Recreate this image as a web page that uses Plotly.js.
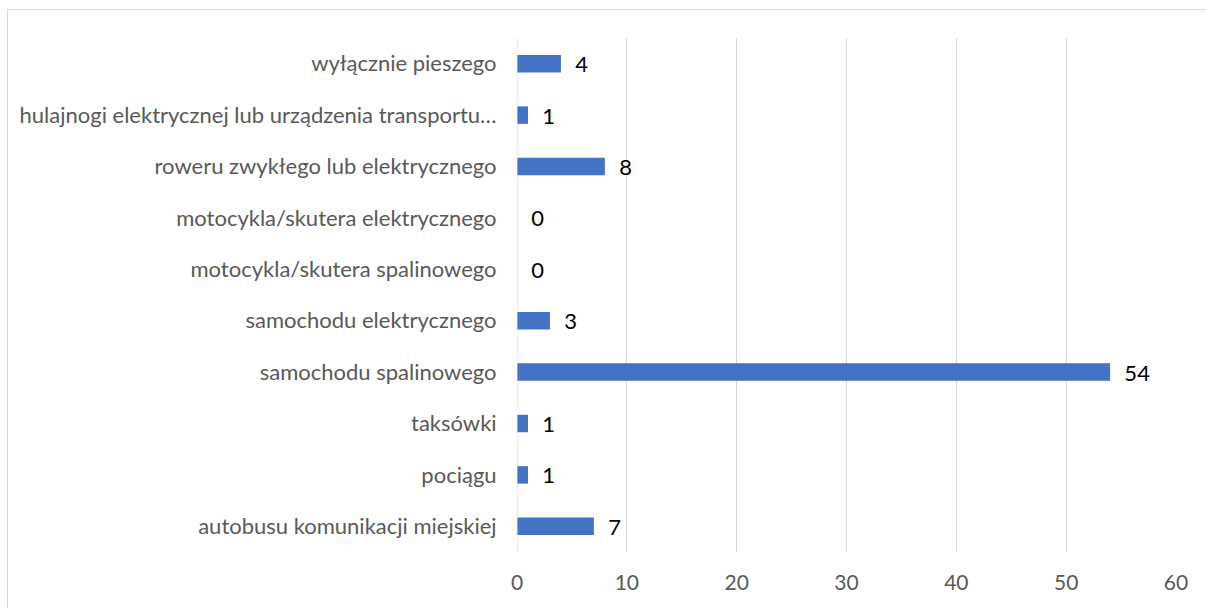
<!DOCTYPE html>
<html>
<head>
<meta charset="utf-8">
<script src="https://cdn.plot.ly/plotly-3.0.1.min.js"></script>
<style>
html,body{margin:0;padding:0;background:#fff;}
#wrap{position:relative;width:1206px;height:608px;overflow:hidden;}
#frame{position:absolute;left:7px;top:9px;width:1220px;height:620px;border:1px solid #d9d9d9;box-sizing:border-box;pointer-events:none;}
#chart{position:absolute;left:0;top:0;width:1206px;height:608px;}
</style>
</head>
<body>
<div id="wrap">
<div id="chart"></div>
<div id="frame"></div>
</div>
<script>
const categories = [
  "autobusu komunikacji miejskiej",
  "pociągu",
  "taksówki",
  "samochodu spalinowego",
  "samochodu elektrycznego",
  "motocykla/skutera spalinowego",
  "motocykla/skutera elektrycznego",
  "roweru zwykłego lub elektrycznego",
  "hulajnogi elektrycznej lub urządzenia transportu…",
  "wyłącznie pieszego"
];
const values = [7, 1, 1, 54, 3, 0, 0, 8, 1, 4];
const tickValues = [0, 10, 20, 30, 40, 50, 60];

const font = "Lato, Open Sans, sans-serif";

Plotly.newPlot("chart", [{
  type: "bar",
  orientation: "h",
  y: categories,
  x: values,
  width: 0.34,
  marker: {color: "#4472c4", line: {color: "#4472c4", width: 0}},
  text: values.map(v => "  " + v),
  textposition: "outside",
  constraintext: "none",
  cliponaxis: false,
  textfont: {family: font, size: 22, color: "#000000"},
  hoverinfo: "none"
}], {
  width: 1206,
  height: 608,
  margin: {l: 517, r: 30, t: 38, b: 56},
  paper_bgcolor: "rgba(0,0,0,0)",
  plot_bgcolor: "rgba(0,0,0,0)",
  showlegend: false,
  bargap: 0.66,
  xaxis: {
    range: [0, 60],
    tickvals: tickValues,
    ticktext: tickValues.map(String),
    showgrid: true,
    gridcolor: "#d9d9d9",
    gridwidth: 1,
    zeroline: false,
    showline: false,
    ticks: "outside",
    ticklen: 12,
    tickcolor: "rgba(0,0,0,0)",
    tickfont: {family: font, size: 21, color: "#595959"},
    fixedrange: true
  },
  yaxis: {
    type: "category",
    categoryorder: "array",
    categoryarray: categories,
    showgrid: false,
    zeroline: false,
    showline: false,
    ticks: "outside",
    ticklen: 15,
    tickcolor: "rgba(0,0,0,0)",
    tickfont: {family: font, size: 22, color: "#595959"},
    automargin: false,
    fixedrange: true
  },
  shapes: [{
    type: "line", xref: "x", yref: "paper",
    x0: 0, x1: 0, y0: 0, y1: 1,
    line: {color: "#d9d9d9", width: 1}
  }]
}, {displayModeBar: false, staticPlot: true});
</script>
</body>
</html>
